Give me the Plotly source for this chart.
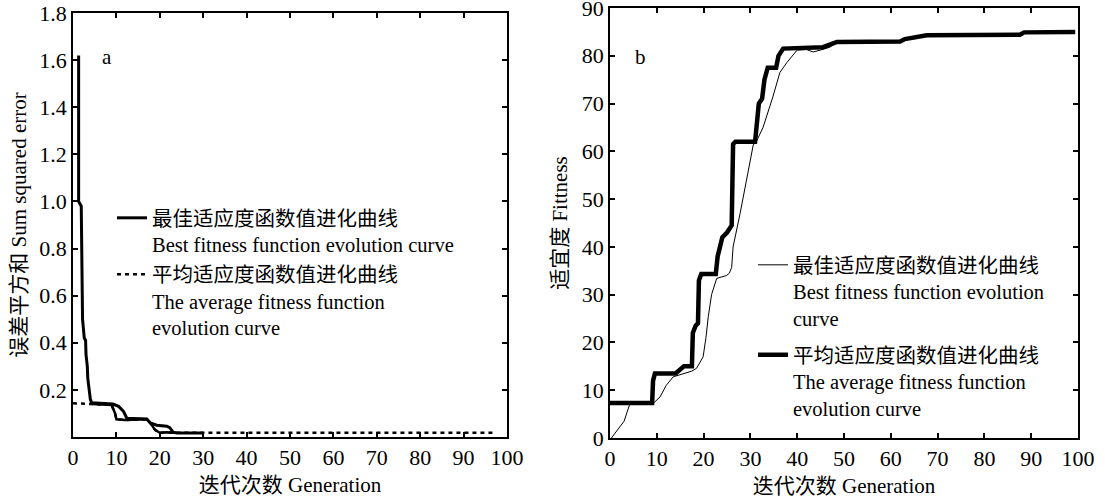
import plotly.graph_objects as go

# ---------------- Panel a : sum squared error ----------------
a_best_x = [1.3, 1.3, 1.9, 2.0, 2.1, 2.2, 2.6, 2.9, 3.0, 3.3, 3.4, 3.8, 4.0, 4.3, 9.2, 10.5, 11.6, 12.4,
            17.0, 17.8, 19.3, 21.6, 22.3, 23.1, 24.0, 30.0]
a_best_y = [1.62, 1.0, 0.98, 0.8, 0.6, 0.5, 0.42, 0.41, 0.35, 0.30, 0.25, 0.20, 0.16, 0.145, 0.14, 0.13,
            0.11, 0.08, 0.077, 0.06, 0.05, 0.046, 0.04, 0.02, 0.017, 0.017]
a_avg_x = [0.0, 4.0, 4.3, 8.9, 9.7, 10.0, 12.0, 17.0, 17.8, 18.9, 20.0, 21.6, 23.0, 97.0]
a_avg_y = [0.143, 0.143, 0.14, 0.136, 0.10, 0.075, 0.072, 0.075, 0.06, 0.03, 0.018, 0.02, 0.018, 0.018]

# ---------------- Panel b : fitness ----------------
b_best_x = [0.3, 1.5, 3.0, 4.3, 9.3, 10.7, 12.0, 13.5, 15.6, 17.5, 18.5, 19.3, 19.9, 20.5, 21.0, 21.7,
            22.8, 24.9, 25.5, 26.0, 26.3, 27.8, 29.5, 30.6, 31.4, 32.7, 34.8, 36.3, 37.8, 38.5, 40.0,
            42.0, 43.4, 45.0, 47.0, 48.5, 62.0, 63.0, 67.7, 87.6, 88.5, 99.4]
b_best_y = [0.0, 1.5, 3.5, 7.3, 7.3, 8.6, 11.0, 12.8, 13.5, 14.0, 14.6, 16.0, 17.0, 21.0, 25.4, 30.0,
            33.4, 34.0, 34.5, 35.7, 40.0, 47.0, 56.0, 61.3, 62.3, 65.0, 71.4, 76.5, 78.6, 79.5, 81.2,
            81.3, 80.8, 81.2, 81.8, 82.9, 83.0, 83.5, 84.3, 84.4, 84.9, 85.0]
b_avg_x = [0.0, 9.0, 9.2, 9.6, 14.0, 15.0, 15.8, 17.5, 17.7, 18.3, 18.8, 19.0, 19.5, 22.6, 23.0, 23.5,
           24.0, 25.0, 26.0, 26.3, 26.8, 31.0, 31.3, 31.8, 32.5, 33.0, 33.7, 35.5, 36.0, 37.0, 45.5,
           48.5, 62.0, 63.0, 67.7, 87.6, 88.5, 99.4]
b_avg_y = [7.3, 7.3, 12.0, 13.5, 13.5, 14.2, 15.0, 15.0, 22.0, 23.5, 24.0, 33.0, 34.3, 34.3, 38.0, 40.0,
           42.0, 43.0, 44.5, 61.5, 62.0, 62.0, 66.0, 70.0, 71.0, 75.0, 77.5, 77.5, 80.0, 81.5, 81.8,
           82.9, 83.0, 83.5, 84.3, 84.4, 84.9, 85.0]

# ---------------- Text ----------------
name_best = "最佳适应度函数值进化曲线<br>Best fitness function evolution curve"
name_avg = "平均适应度函数值进化曲线<br>The average fitness function<br>evolution curve"
name_best_b = "最佳适应度函数值进化曲线<br>Best fitness function evolution<br>curve"
name_avg_b = "平均适应度函数值进化曲线<br>The average fitness function<br>evolution curve"
x_title = "迭代次数 Generation"
a_y_title = "误差平方和 Sum squared error"
b_y_title = "适宜度 Fittness"
x_ticks = [0, 10, 20, 30, 40, 50, 60, 70, 80, 90, 100]
a_y_ticks = [0.2, 0.4, 0.6, 0.8, 1.0, 1.2, 1.4, 1.6, 1.8]
a_y_ticktext = ["0.2", "0.4", "0.6", "0.8", "1.0", "1.2", "1.4", "1.6", "1.8"]
b_y_ticks = [0, 10, 20, 30, 40, 50, 60, 70, 80, 90]

FONT = "Liberation Serif, Times New Roman, Noto Sans CJK SC, serif"
W, H = 1105, 500
LEG = 20.5


def px(p):                   # page pixel -> paper x
    return p / W


def py(p):                   # page pixel -> paper y
    return 1 - p / H


fig = go.Figure()

# panel a
fig.add_trace(go.Scatter(x=a_best_x, y=a_best_y, mode="lines", name=name_best,
                         line=dict(color="black", width=3), xaxis="x", yaxis="y", legend="legend"))
fig.add_trace(go.Scatter(x=a_avg_x, y=a_avg_y, mode="lines", name=name_avg,
                         line=dict(color="black", width=2.5, dash="4px,4px"),
                         xaxis="x", yaxis="y", legend="legend"))
mid = [i for i, v in enumerate(a_avg_x) if 4.3 <= v <= 23.0]
fig.add_trace(go.Scatter(x=[a_avg_x[i] for i in mid], y=[a_avg_y[i] for i in mid], mode="lines",
                         showlegend=False, line=dict(color="black", width=2.5),
                         xaxis="x", yaxis="y", hoverinfo="skip"))

# panel b
fig.add_trace(go.Scatter(x=b_best_x, y=b_best_y, mode="lines", name=name_best_b, legendgroup="b1",
                         line=dict(color="black", width=1), xaxis="x2", yaxis="y2", legend="legend2"))
fig.add_trace(go.Scatter(x=b_avg_x, y=b_avg_y, mode="lines", name=name_avg_b, legendgroup="b2",
                         line=dict(color="black", width=4.5), xaxis="x2", yaxis="y2", legend="legend2"))

axis_common = dict(showgrid=False, zeroline=False, showline=True, linecolor="black", linewidth=1.5,
                   mirror="allticks", ticks="inside", ticklen=5, tickwidth=1.5, tickcolor="black",
                   automargin=False, ticklabeloverflow="allow",
                   tickfont=dict(family=FONT, size=22, color="black"))

fig.update_layout(
    width=W, height=H, margin=dict(l=0, r=0, t=0, b=0),
    paper_bgcolor="white", plot_bgcolor="white",
    font=dict(family=FONT, size=21, color="black"),
    xaxis=dict(domain=[px(73), px(507)], range=[0, 100], tickvals=x_ticks, anchor="y",
               title=dict(text=x_title, standoff=8, font=dict(size=21)), **axis_common),
    yaxis=dict(domain=[py(437), py(13)], range=[0, 1.8], tickvals=a_y_ticks,
               ticktext=a_y_ticktext, anchor="x",
               title=dict(text=a_y_title, standoff=7, font=dict(size=21)), **axis_common),
    xaxis2=dict(domain=[px(610), px(1078)], range=[0, 100], tickvals=x_ticks, anchor="y2",
                title=dict(text=x_title, standoff=8, font=dict(size=21)), **axis_common),
    yaxis2=dict(domain=[py(438), py(8)], range=[0, 90], tickvals=b_y_ticks, anchor="x2",
                title=dict(text=b_y_title, standoff=8, font=dict(size=21)), **axis_common),
    legend=dict(x=px(112), y=py(198), xanchor="left", yanchor="top", bgcolor="rgba(0,0,0,0)",
                font=dict(family=FONT, size=LEG), valign="top", tracegroupgap=0),
    legend2=dict(x=px(753), y=py(245), xanchor="left", yanchor="top", bgcolor="rgba(0,0,0,0)",
                 font=dict(family=FONT, size=LEG), valign="top", tracegroupgap=7),
    modebar=dict(bgcolor="rgba(0,0,0,0)", color="rgba(0,0,0,0)", activecolor="rgba(0,0,0,0)"),
    annotations=[
        dict(text="a", x=px(100), y=py(43), xref="paper", yref="paper", showarrow=False,
             font=dict(family=FONT, size=21)),
        dict(text="b", x=px(640), y=py(43), xref="paper", yref="paper", showarrow=False,
             font=dict(family=FONT, size=21)),
    ],
)

# the page's default 8px body margin would shift the fixed-size figure; remove it
fig.write_html("out.html", config={"displayModeBar": False},
               post_script="document.body.style.margin='0';")
